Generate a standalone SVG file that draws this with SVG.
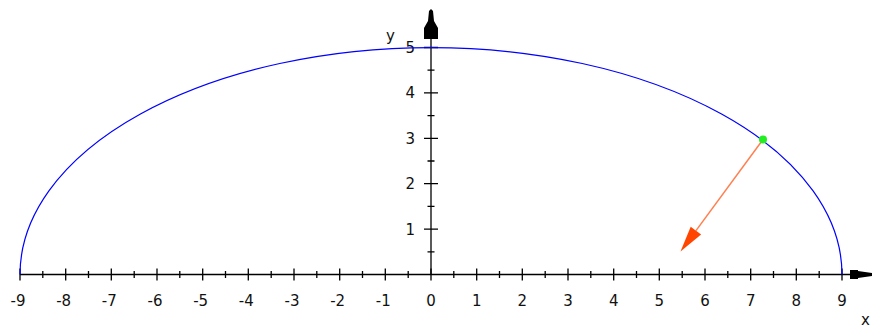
<svg xmlns="http://www.w3.org/2000/svg" width="872" height="329" viewBox="0 0 872 329">
<style>
.ax{stroke:#000;stroke-width:1.3;fill:none}
.tk{stroke:#000;stroke-width:1.3}
.lb{font-family:"DejaVu Sans","Liberation Sans",sans-serif;font-size:15px;fill:#111}
.xl{text-anchor:middle}
.yl{text-anchor:end}
</style>
<rect width="872" height="329" fill="#fff"/>
<g id="axes">
<line class="ax" x1="20" y1="274.5" x2="852" y2="274.5"/>
<line class="ax" x1="431" y1="274.5" x2="431" y2="30"/>
<polygon points="850,270 858,270 858,271 872,273 872,276 858,278 858,279 850,279" fill="#000"/>
<polygon points="431,9 433,11 434,21 438,28 438,39 424,39 424,28 428,21 429,11" fill="#000"/>
<g id="xticks">
<path class="tk" d="M20,268.5v12M65.7,268.5v12M111.3,268.5v12M157,268.5v12M202.7,268.5v12M248.3,268.5v12M294,268.5v12M339.7,268.5v12M385.3,268.5v12M431,268.5v12M476.7,268.5v12M522.3,268.5v12M568,268.5v12M613.7,268.5v12M659.3,268.5v12M705,268.5v12M750.7,268.5v12M796.3,268.5v12M842,268.5v12"/>
<path class="tk" d="M42.8,271v7M88.5,271v7M134.2,271v7M179.8,271v7M225.5,271v7M271.2,271v7M316.8,271v7M362.5,271v7M408.2,271v7M453.8,271v7M499.5,271v7M545.2,271v7M590.8,271v7M636.5,271v7M682.2,271v7M727.8,271v7M773.5,271v7M819.2,271v7"/>
</g>
<g id="yticks">
<path class="tk" d="M424,229.1h14M424,183.7h14M424,138.3h14M424,92.9h14M424,47.5h14"/>
<path class="tk" d="M427.5,251.8h7M427.5,206.4h7M427.5,161h7M427.5,115.6h7M427.5,70.2h7"/>
</g>
</g>
<g id="labels">
<text class="lb xl" x="18" y="306">-9</text>
<text class="lb xl" x="63.7" y="306">-8</text>
<text class="lb xl" x="109.3" y="306">-7</text>
<text class="lb xl" x="155" y="306">-6</text>
<text class="lb xl" x="200.7" y="306">-5</text>
<text class="lb xl" x="246.3" y="306">-4</text>
<text class="lb xl" x="292" y="306">-3</text>
<text class="lb xl" x="337.7" y="306">-2</text>
<text class="lb xl" x="383.3" y="306">-1</text>
<text class="lb xl" x="431" y="306">0</text>
<text class="lb xl" x="476.7" y="306">1</text>
<text class="lb xl" x="522.3" y="306">2</text>
<text class="lb xl" x="568" y="306">3</text>
<text class="lb xl" x="613.7" y="306">4</text>
<text class="lb xl" x="659.3" y="306">5</text>
<text class="lb xl" x="705" y="306">6</text>
<text class="lb xl" x="750.7" y="306">7</text>
<text class="lb xl" x="796.3" y="306">8</text>
<text class="lb xl" x="842" y="306">9</text>
<text class="lb yl" x="415" y="234.5">1</text>
<text class="lb yl" x="415" y="189">2</text>
<text class="lb yl" x="415" y="143.5">3</text>
<text class="lb yl" x="415" y="98">4</text>
<text class="lb yl" x="415" y="53">5</text>
<text class="lb" x="386" y="41" font-size="17">y</text>
<text class="lb" x="861" y="325" font-size="16">x</text>
</g>
<g id="curve">
<path d="M20,274.5 A411,227 0 0 1 842,274.5" fill="none" stroke="#0000ff" stroke-width="1.2"/>
</g>
<g id="connectors">
<line x1="763" y1="139.5" x2="696" y2="230.6" stroke="#ff7f50" stroke-width="1.5"/>
<polygon points="680.5,251.5 701.1,234.5 690.7,226.7" fill="#ff4500"/>
</g>
<g id="point">
<circle cx="763" cy="139.5" r="4" fill="#22ee22"/>
</g>
</svg>
